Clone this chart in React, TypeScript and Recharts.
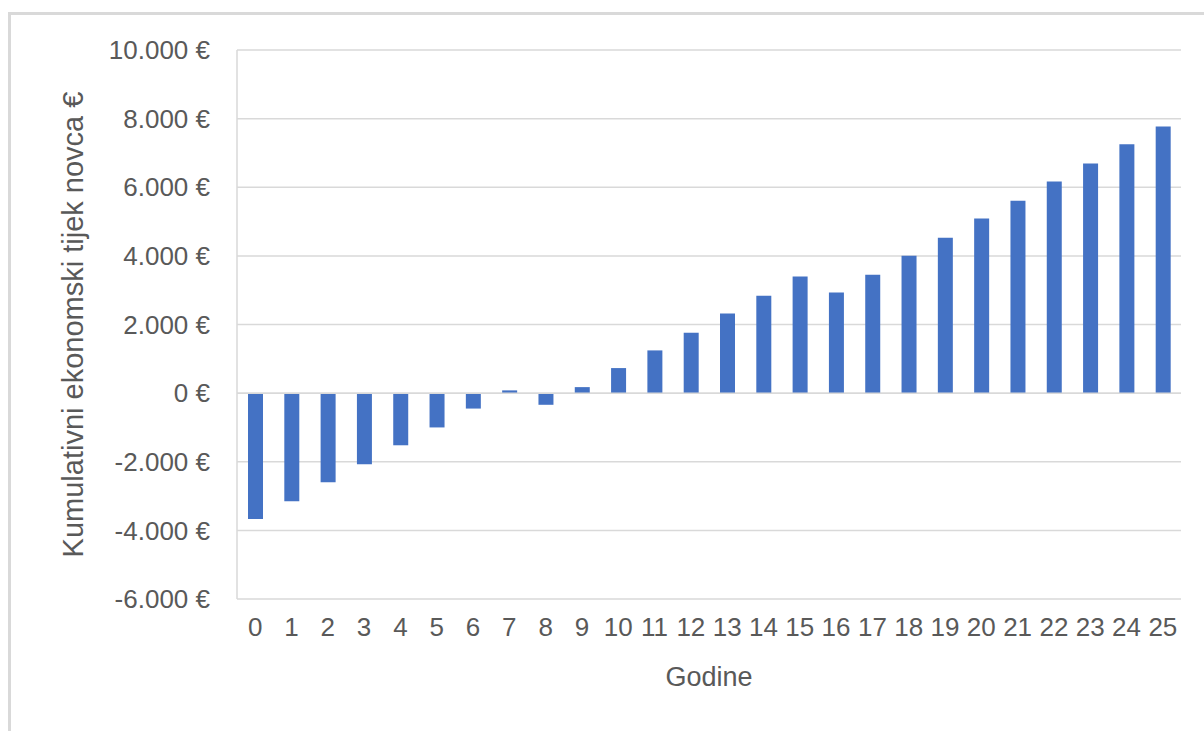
import { BarChart, Bar, XAxis, YAxis, CartesianGrid, ReferenceLine } from "recharts";

// years 0..25
const godine = ["0", "1", "2", "3", "4", "5", "6", "7", "8", "9", "10", "11", "12", "13", "14", "15", "16", "17", "18", "19", "20", "21", "22", "23", "24", "25"];
const kumulativno = [-3670, -3150, -2600, -2070, -1520, -1000, -450, 80, -340, 175, 730, 1245, 1760, 2320, 2840, 3400, 2930, 3450, 4005, 4530, 5090, 5610, 6170, 6690, 7250, 7770];
const yTicks = [-6000, -4000, -2000, 0, 2000, 4000, 6000, 8000, 10000];

const data = godine.map((g, i) => ({ godina: g, vrijednost: kumulativno[i] }));

const FONT = "'Liberation Sans', Arial, sans-serif";
const TEXT = "#595959";
const GRID = "#d9d9d9";

const fmtEuro = (v: number) => {
  const s = Math.abs(v).toString().replace(/\B(?=(\d{3})+(?!\d))/g, ".");
  return (v < 0 ? "-" : "") + s + " €";
};

const App = () => {
  return (
    <div style={{ position: "absolute", left: 0, top: 0, width: 1204, height: 731, background: "#fff", overflow: "hidden" }}>
      <div style={{ position: "absolute", left: 8, top: 12, width: 1200, height: 740, borderLeft: `3px solid ${GRID}`, borderTop: `3px solid ${GRID}` }} />
      <BarChart
        width={1204}
        height={731}
        data={data}
        margin={{ top: 50, right: 23, bottom: 0, left: 0 }}
        barCategoryGap={0}
        style={{ position: "absolute", left: 0, top: 0, fontFamily: FONT }}
      >
        <CartesianGrid vertical={false} stroke={GRID} strokeWidth={1.5} />
        <XAxis
          dataKey="godina"
          height={132}
          axisLine={false}
          tickLine={false}
          tickSize={0}
          tickMargin={19}
          interval={0}
          tick={{ fill: TEXT, fontSize: 26, fontFamily: FONT }}
          label={{ value: "Godine", position: "insideBottom", offset: 45, fill: TEXT, fontSize: 27, fontFamily: FONT }}
        />
        <YAxis
          width={237}
          domain={[-6000, 10000]}
          ticks={yTicks}
          tickFormatter={fmtEuro}
          axisLine={{ stroke: GRID, strokeWidth: 1.5 }}
          tickLine={false}
          tickSize={0}
          tickMargin={27}
          tick={{ fill: TEXT, fontSize: 26, fontFamily: FONT }}
          label={{
            value: "Kumulativni ekonomski tijek novca €",
            angle: -90,
            position: "insideLeft",
            offset: 0,
            dx: 73,
            fill: TEXT,
            fontSize: 29,
            fontFamily: FONT,
            style: { textAnchor: "middle" },
          }}
        />
        <ReferenceLine y={0} stroke={GRID} strokeWidth={1.5} />
        <Bar dataKey="vrijednost" fill="#4472C4" barSize={15} isAnimationActive={false} />
      </BarChart>
    </div>
  );
};

export default App;
